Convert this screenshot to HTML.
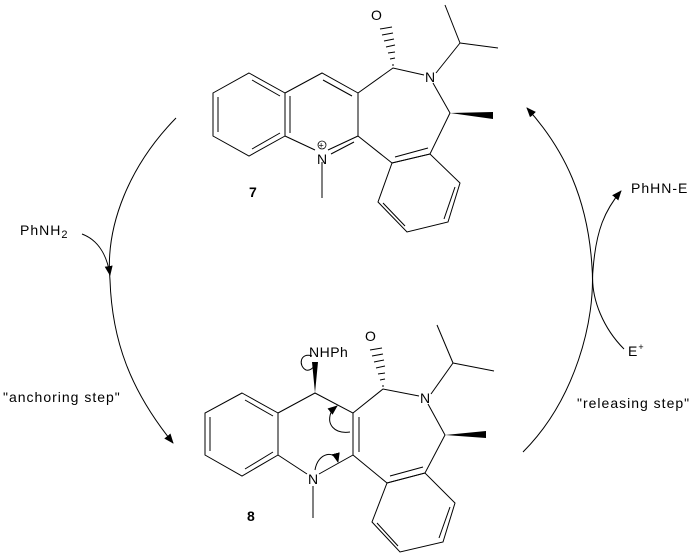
<!DOCTYPE html>
<html><head><style>
body{margin:0;background:#fff;}
svg{display:block;}
text{font-family:"Liberation Sans",sans-serif;font-size:14px;letter-spacing:1px;fill:#000;}
</style></head><body>
<svg width="697" height="556" viewBox="0 0 697 556" xmlns="http://www.w3.org/2000/svg">
<defs>
<marker id="ah" markerWidth="10" markerHeight="8" refX="9" refY="4" orient="auto" markerUnits="userSpaceOnUse">
<path d="M0,0 L10,4 L0,8 Z" fill="#000"/></marker>
</defs>
<g stroke="#000" stroke-width="1" fill="none">
<!-- Molecule 7 -->
<polygon points="249,73 285,93 285,136 249,156 213,136 213,93"/>
<line x1="252" y1="80" x2="280" y2="96"/>
<line x1="280" y1="133" x2="252" y2="149"/>
<line x1="218" y1="97" x2="218" y2="132"/>
<polyline points="285,93 322,73 358,93 358,136 328,150"/>
<line x1="315" y1="150" x2="285" y2="136"/>
<line x1="290" y1="96" x2="290" y2="133"/>
<line x1="323" y1="80" x2="352" y2="96"/>
<line x1="354" y1="142" x2="331" y2="154"/>
<polyline points="358,93 393,68 424,75"/>
<polyline points="433,83 450,113 430,154 392,163 358,136"/>
<line x1="428" y1="148" x2="395" y2="157"/>
<polygon points="392,163 430,154 460,183 448,222 407,232 378,202"/>
<line x1="455" y1="187" x2="444" y2="219"/>
<line x1="405" y1="226" x2="383" y2="203"/>
<line x1="436" y1="73" x2="460" y2="43"/>
<line x1="460" y1="43" x2="445" y2="5"/>
<line x1="460" y1="43" x2="498" y2="48"/>
<line x1="322" y1="162" x2="322" y2="198"/>
<!-- Molecule 8 -->
<polygon points="242,393 278,413 278,455 242,476 205,455 205,413"/>
<line x1="245" y1="400" x2="273" y2="416"/>
<line x1="273" y1="452" x2="245" y2="469"/>
<line x1="210" y1="417" x2="210" y2="451"/>
<polyline points="278,413 315,393 353,413 353,455 319,474"/>
<line x1="307" y1="474" x2="278" y2="455"/>
<line x1="359" y1="417" x2="359" y2="452"/>
<polyline points="353,413 383,389 419,396"/>
<polyline points="428,404 445,435 425,473 387,483 353,455"/>
<line x1="423" y1="467" x2="390" y2="476"/>
<polygon points="387,483 425,473 455,503 443,542 400,552 372,522"/>
<line x1="450" y1="507" x2="439" y2="538"/>
<line x1="398" y1="546" x2="377" y2="523"/>
<line x1="431" y1="394" x2="453" y2="363"/>
<line x1="453" y1="363" x2="437" y2="325"/>
<line x1="453" y1="363" x2="494" y2="371"/>
<line x1="313" y1="486" x2="313" y2="518"/>
<!-- curly arrows in 8 -->
<path d="M312,356 C300,352 298,366 306,370 C310,371 313,368 315,365" />
<path d="M350,432 C335,434 325,425 332,410 L337,406" marker-end="url(#ah)"/>
<path d="M315,470 C318,452 335,450 338,462" marker-end="url(#ah)"/>
<!-- cycle arrows -->
<path d="M176,118 C130,165 105,225 110,280 C112,340 130,390 173,443" marker-end="url(#ah)"/>
<path d="M82,234 C98,240 107,255 110,275" marker-end="url(#ah)"/>
<path d="M523,452 C575,400 596,320 592,267 C588,200 565,150 527,108" marker-end="url(#ah)"/>
<path d="M624,349 C605,330 590,300 593,270 C596,230 605,210 621,191" marker-end="url(#ah)"/>
</g>
<!-- hashed wedges -->
<g stroke="#000" stroke-width="1">
<line x1="392" y1="65" x2="394" y2="65"/>
<line x1="390" y1="59" x2="395" y2="58"/>
<line x1="388" y1="53" x2="395" y2="52"/>
<line x1="386" y1="47" x2="395" y2="45"/>
<line x1="384" y1="41" x2="394" y2="39"/>
<line x1="382" y1="35" x2="393" y2="33"/>
<line x1="380" y1="29" x2="392" y2="27"/>
<line x1="382" y1="386" x2="384" y2="386"/>
<line x1="380" y1="380" x2="385" y2="379"/>
<line x1="378" y1="374" x2="385" y2="373"/>
<line x1="376" y1="368" x2="385" y2="366"/>
<line x1="374" y1="362" x2="384" y2="360"/>
<line x1="372" y1="356" x2="383" y2="354"/>
<line x1="370" y1="350" x2="382" y2="348"/>
</g>
<g fill="#000">
<polygon points="450,113 493,112 493,119"/>
<polygon points="445,435 486,431 486,438"/>
<polygon points="315,393 312,362 318,362"/>
</g>
<!-- labels -->
<text x="371" y="20">O</text>
<text x="425" y="82">N</text>
<text x="317" y="164">N</text>
<circle cx="322" cy="145" r="4" fill="#fff" stroke="#000" stroke-width="0.8"/>
<text x="318.5" y="148.5" style="font-size:9px;letter-spacing:0">+</text>
<text x="249" y="197" style="font-weight:bold">7</text>
<text x="365" y="341">O</text>
<text x="420" y="403">N</text>
<text x="309" y="357" style="letter-spacing:0.5px">NHPh</text>
<text x="308" y="484">N</text>
<text x="247" y="521" style="font-weight:bold">8</text>
<text x="20" y="235">PhNH<tspan style="font-size:11px" dy="3">2</tspan></text>
<text x="3" y="402">"anchoring step"</text>
<text x="631" y="193">PhHN-E</text>
<text x="628" y="356">E<tspan style="font-size:9px" dy="-6">+</tspan></text>
<text x="577" y="408">"releasing step"</text>
</svg>
</body></html>
